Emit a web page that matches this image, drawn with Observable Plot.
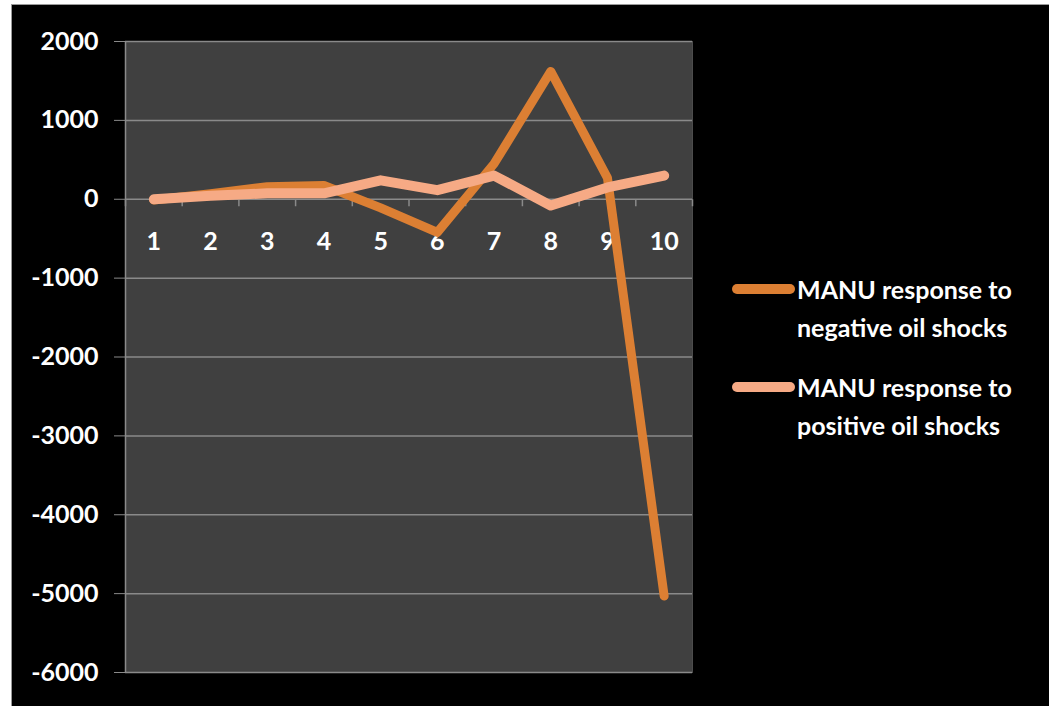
<!DOCTYPE html>
<html>
<head>
<meta charset="utf-8">
<script src="https://cdn.jsdelivr.net/npm/d3@7"></script>
<script src="https://cdn.jsdelivr.net/npm/@observablehq/plot@0.6"></script>
<style>
  html, body { margin: 0; padding: 0; background: #fff; width: 1049px; height: 706px; overflow: hidden; }
  #panel { position: absolute; left: 11px; top: 4px; width: 1038px; height: 702px; background: #000;
           border-left: 1px solid #9a9a9a; border-top: 1px solid #9a9a9a; box-sizing: border-box; }
  #chart { position: absolute; left: 0; top: 0; }
  #legend { position: absolute; left: 732px; top: 270px; color: #fff; font-family: Lato, sans-serif;
            font-size: 25px; font-weight: bold; line-height: 38px; display: flex; flex-direction: column; gap: 22px; }
  .item { display: flex; align-items: flex-start; }
  .swatch { width: 63px; height: 10px; border-radius: 5px; margin-top: 14px; margin-right: 2px; }
  .label { white-space: pre-line; }
</style>
</head>
<body>
<div id="panel"></div>
<div id="chart"></div>
<div id="legend"></div>
<script>
// Periods after the shock
const periods = [1, 2, 3, 4, 5, 6, 7, 8, 9, 10];
// MANU response to negative oil shocks
const negativeShock = [-10, 70, 160, 175, -110, -420, 450, 1620, 270, -5030];
// MANU response to positive oil shocks
const positiveShock = [0, 45, 75, 75, 240, 115, 300, -80, 150, 300];
const yTicks = [2000, 1000, 0, -1000, -2000, -3000, -4000, -5000, -6000];
const seriesNames = ["MANU response to negative oil shocks", "MANU response to positive oil shocks"];
const seriesColors = ["#DC7F33", "#F6AA85"];

const rows = periods.map((p, i) => ({period: p, negative: negativeShock[i], positive: positiveShock[i]}));
// category boundaries for the tick marks under the zero line
const boundaries = [periods[0] - 0.5, ...periods.map(p => p + 0.5)];
const tickDown = {draw(context) { context.moveTo(0, 0); context.lineTo(0, 7); }};
const gridColor = "#8a8a8a";

const chart = Plot.plot({
  width: 1049,
  height: 706,
  marginLeft: 125,
  marginRight: 357,
  marginTop: 41,
  marginBottom: 34,
  style: {background: "transparent", color: "white", fontFamily: "Lato, sans-serif", fontSize: "25px", fontWeight: "bold"},
  x: {domain: [periods[0] - 0.5, periods[periods.length - 1] + 0.5], axis: null},
  y: {domain: [yTicks[yTicks.length - 1], yTicks[0]]},
  marks: [
    Plot.frame({fill: "#404040", stroke: "#4c4c4c"}),
    Plot.gridY(yTicks, {stroke: gridColor, strokeOpacity: 1, strokeWidth: 1.5}),
    Plot.ruleX([boundaries[0]], {stroke: gridColor, strokeWidth: 1.5}),
    Plot.dot(boundaries, {x: d => d, y: 0, symbol: tickDown, r: 3, fill: "none", stroke: gridColor, strokeWidth: 1.5}),
    Plot.axisY(yTicks, {tickSize: 11, tickPadding: 16, tickFormat: d => String(d), stroke: gridColor, label: null}),
    Plot.text(periods, {x: d => d, y: 0, dy: 43, text: d => String(d), fill: "white"}),
    Plot.line(rows, {x: "period", y: "negative", stroke: seriesColors[0], strokeWidth: 9,
                     strokeLinecap: "round", strokeLinejoin: "round"}),
    Plot.line(rows, {x: "period", y: "positive", stroke: seriesColors[1], strokeWidth: 10,
                     strokeLinecap: "round", strokeLinejoin: "round"})
  ]
});
document.getElementById("chart").appendChild(chart);

const legend = document.getElementById("legend");
seriesNames.forEach((name, i) => {
  const item = document.createElement("div");
  item.className = "item";
  const sw = document.createElement("span");
  sw.className = "swatch";
  sw.style.background = seriesColors[i];
  const lab = document.createElement("span");
  lab.className = "label";
  lab.textContent = name.replace(" to ", " to\n");
  item.appendChild(sw);
  item.appendChild(lab);
  legend.appendChild(item);
});
</script>
</body>
</html>
